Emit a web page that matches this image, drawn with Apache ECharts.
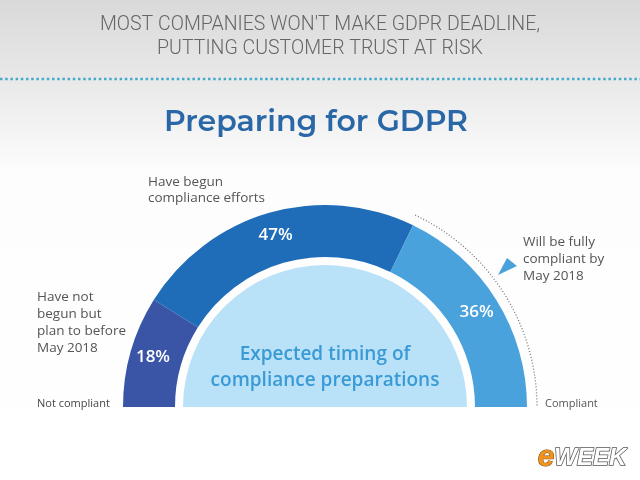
<!DOCTYPE html>
<html><head><meta charset="utf-8">
<script src="https://cdn.jsdelivr.net/npm/echarts@6/dist/echarts.min.js"></script>
<style>html,body{margin:0;padding:0;background:#fff}#c{width:640px;height:480px}</style>
</head><body><div id="c"></div>
<script>
const categories = ['Have not begun but plan to before May 2018', 'Have begun compliance efforts', 'Will be fully compliant by May 2018'];
const values = [18, 47, 36];
const colors = ['#3a55a6', '#1f6db8', '#4aa2dc'];

const chart = echarts.init(document.getElementById('c'));
const cx = 325, cy = 407;
const font = '"Open Sans", "Noto Sans", sans-serif';
chart.setOption({
  backgroundColor: '#ffffff',
  animation: false,
  graphic: [
    { type: 'rect', z: -10, shape: { x: 0, y: 0, width: 640, height: 480 },
      style: { fill: new echarts.graphic.LinearGradient(0, 0, 0, 1, [
        { offset: 0, color: '#d9d9d9' }, { offset: 0.17, color: '#e9e9e9' }, { offset: 0.36, color: '#fdfdfd' }, { offset: 1, color: '#ffffff' }]) } },
    { type: 'text', x: 320, y: 25, style: { text: "MOST COMPANIES WON'T MAKE GDPR DEADLINE,", fill: '#666', font: '300 19.5px Roboto, sans-serif', align: 'center', verticalAlign: 'middle' } },
    { type: 'text', x: 320, y: 49, style: { text: 'PUTTING CUSTOMER TRUST AT RISK', fill: '#666', font: '300 19.5px Roboto, sans-serif', align: 'center', verticalAlign: 'middle' } },
    { type: 'line', shape: { x1: 0, y1: 79, x2: 640, y2: 79 }, style: { stroke: '#45a9cc', lineWidth: 2.5, lineDash: [2.5, 2.7] } },
    { type: 'text', x: 316, y: 122, style: { text: 'Preparing for GDPR', fill: '#2a67a6', font: '600 30px Montserrat, "Open Sans", sans-serif', align: 'center', verticalAlign: 'middle' } },
    { type: 'text', x: 148, y: 190, style: { text: 'Have begun\ncompliance efforts', fill: '#555', font: '13.5px ' + font, lineHeight: 16, verticalAlign: 'middle' } },
    { type: 'text', x: 37, y: 323, style: { text: 'Have not\nbegun but\nplan to before\nMay 2018', fill: '#555', font: '13.5px ' + font, lineHeight: 17, verticalAlign: 'middle' } },
    { type: 'text', x: 37, y: 404, style: { text: 'Not compliant', fill: '#444', font: '11px ' + font, verticalAlign: 'middle' } },
    { type: 'text', x: 545, y: 404, style: { text: 'Compliant', fill: '#555', font: '11px ' + font, verticalAlign: 'middle' } },
    { type: 'text', x: 523, y: 259, style: { text: 'Will be fully\ncompliant by\nMay 2018', fill: '#555', font: '13.5px ' + font, lineHeight: 17, verticalAlign: 'middle' } },
    { type: 'polygon', shape: { points: [[498, 275], [507, 258], [517, 266]] }, style: { fill: '#4aa2dc' } },
    { type: 'arc', shape: { cx: cx, cy: cy, r: 212, startAngle: -Math.PI * 0.36, endAngle: 0 }, style: { stroke: '#777', fill: null, lineWidth: 1.3, lineDash: [1, 2] } },
    { type: 'text', z: 100, x: 325, y: 368, style: { text: 'Expected timing of\ncompliance preparations', fill: '#3a9ad6', font: '600 19px ' + font, lineHeight: 26, align: 'center', verticalAlign: 'middle' } },
    { type: 'text', x: 582, y: 458, style: { text: '{e|e}{w|WEEK}', align: 'center', verticalAlign: 'middle',
      rich: { e: { fill: '#f0921c', font: 'italic bold 30px "Liberation Sans", sans-serif', stroke: '#7a4a10', lineWidth: 1 },
              w: { fill: '#ffffff', font: 'italic bold 24px "Liberation Sans", sans-serif', stroke: '#555', lineWidth: 1.5 } } } }
  ],
  series: [
    { type: 'pie', center: [cx, cy], radius: [150, 202], startAngle: 180, endAngle: 0, clockwise: true,
      silent: true, itemStyle: { borderWidth: 0 },
      label: { show: true, position: 'inside', formatter: '{c}%', color: '#fff', fontSize: 17, fontWeight: 600, fontFamily: font },
      labelLine: { show: false },
      data: categories.map((n, i) => ({ name: n, value: values[i], itemStyle: { color: colors[i] } })) },
    { type: 'pie', center: [cx, cy], radius: [0, 142], startAngle: 180, endAngle: 0, silent: true,
      label: { show: false }, labelLine: { show: false },
      data: [{ name: 'Expected timing of compliance preparations', value: 1, itemStyle: { color: '#b9e1f7' } }] }
  ]
});
</script></body></html>
